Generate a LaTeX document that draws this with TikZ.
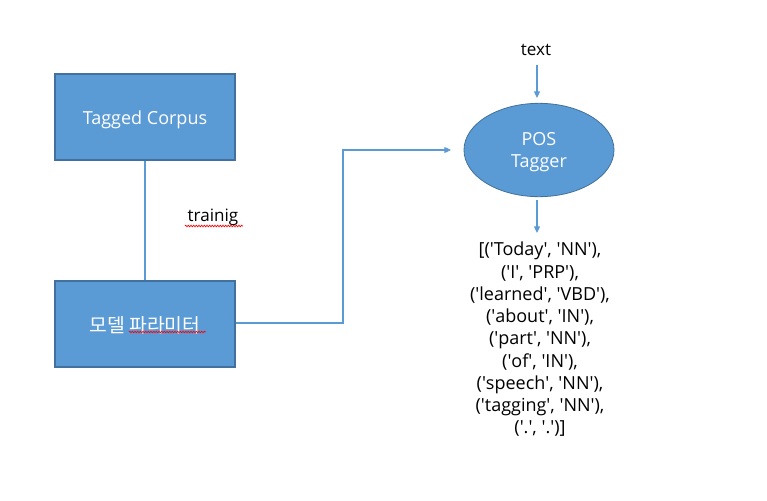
\documentclass[tikz,border=0pt]{standalone}
\usepackage{fontspec}
\setmainfont{Open Sans}
\newfontfamily\krfont{Noto Sans CJK KR}
\usetikzlibrary{arrows.meta,shapes.geometric,decorations.pathmorphing}
\definecolor{boxfill}{HTML}{5B9BD5}
\definecolor{boxline}{HTML}{41719C}
\definecolor{wire}{HTML}{5B9BD5}
\newcommand\sq{\textquotesingle}
\tikzset{
  bluebox/.style={draw=boxline, line width=0.9pt, fill=boxfill, minimum width=135pt, minimum height=64.5pt, inner sep=0pt},
  boxtext/.style={inner sep=0pt, text=white, font=\fontsize{13.5}{16}\selectfont},
  blueell/.style={ellipse, draw=boxline, line width=0.6pt, fill=boxfill, minimum width=112.5pt, minimum height=70pt, inner sep=0pt},
  elltext/.style={inner sep=0pt, text=white, align=center, font=\fontsize{13.5}{16.5}\selectfont},
  wireline/.style={draw=wire, line width=0.9pt},
  wirearrow/.style={wireline, -{Triangle[length=5pt,width=4.5pt]}},
  plain/.style={inner sep=0pt, font=\fontsize{12.8}{15}\selectfont, text=black},
  squiggle/.style={draw=red, line width=0.5pt, decorate, decoration={zigzag, amplitude=0.6pt, segment length=2pt}}
}
\begin{document}
\begin{tikzpicture}[x=0.75pt, y=-0.75pt]
\useasboundingbox (0,0) rectangle (767,500);
\node[bluebox] (corpus) at (145,117) {};
\node[boxtext] (corpuslabel) at (145,119.5) {Tagged Corpus};
\node[bluebox] (model) at (145,324) {};
\node[boxtext, font=\krfont\fontsize{14.5}{16}\selectfont] (modellabel) at (145,325) {모델 파라미터};
\node[plain] (train) at (213,217) {trainig};
\draw[squiggle] (185,226) -- (243,226);
\draw[squiggle] (129,332) -- (206,332);
\node[blueell] (pos) at (539,150) {};
\node[elltext] (poslabel) at (539,152.5) {POS\\Tagger};
\node[plain] (text) at (536,49.5) {text};
\node[plain, align=center, font=\fontsize{13.5}{16.7}\selectfont] (out) at (540,339.5) {[(\sq Today\sq, \sq NN\sq),\\(\sq I\sq, \sq PRP\sq),\\(\sq learned\sq, \sq VBD\sq),\\(\sq about\sq, \sq IN\sq),\\(\sq part\sq, \sq NN\sq),\\(\sq of\sq, \sq IN\sq),\\(\sq speech\sq, \sq NN\sq),\\(\sq tagging\sq, \sq NN\sq),\\(\sq.\sq, \sq.\sq)]};
\coordinate (bend1) at (343,323);
\coordinate (bend2) at (343,150);
\coordinate (tip) at (451,150);
\coordinate (textend) at (537,98);
\coordinate (textstart) at (537,65);
\coordinate (outtip) at (537,233);
\coordinate (outstart) at (537,200);
\draw[wireline] (corpus.south) -- (model.north);
\draw[wirearrow] (model.east |- bend1) -- (bend1) -- (bend2) -- (tip);
\draw[wirearrow] (textstart) -- (textend);
\draw[wirearrow] (outstart) -- (outtip);
\end{tikzpicture}
\end{document}
